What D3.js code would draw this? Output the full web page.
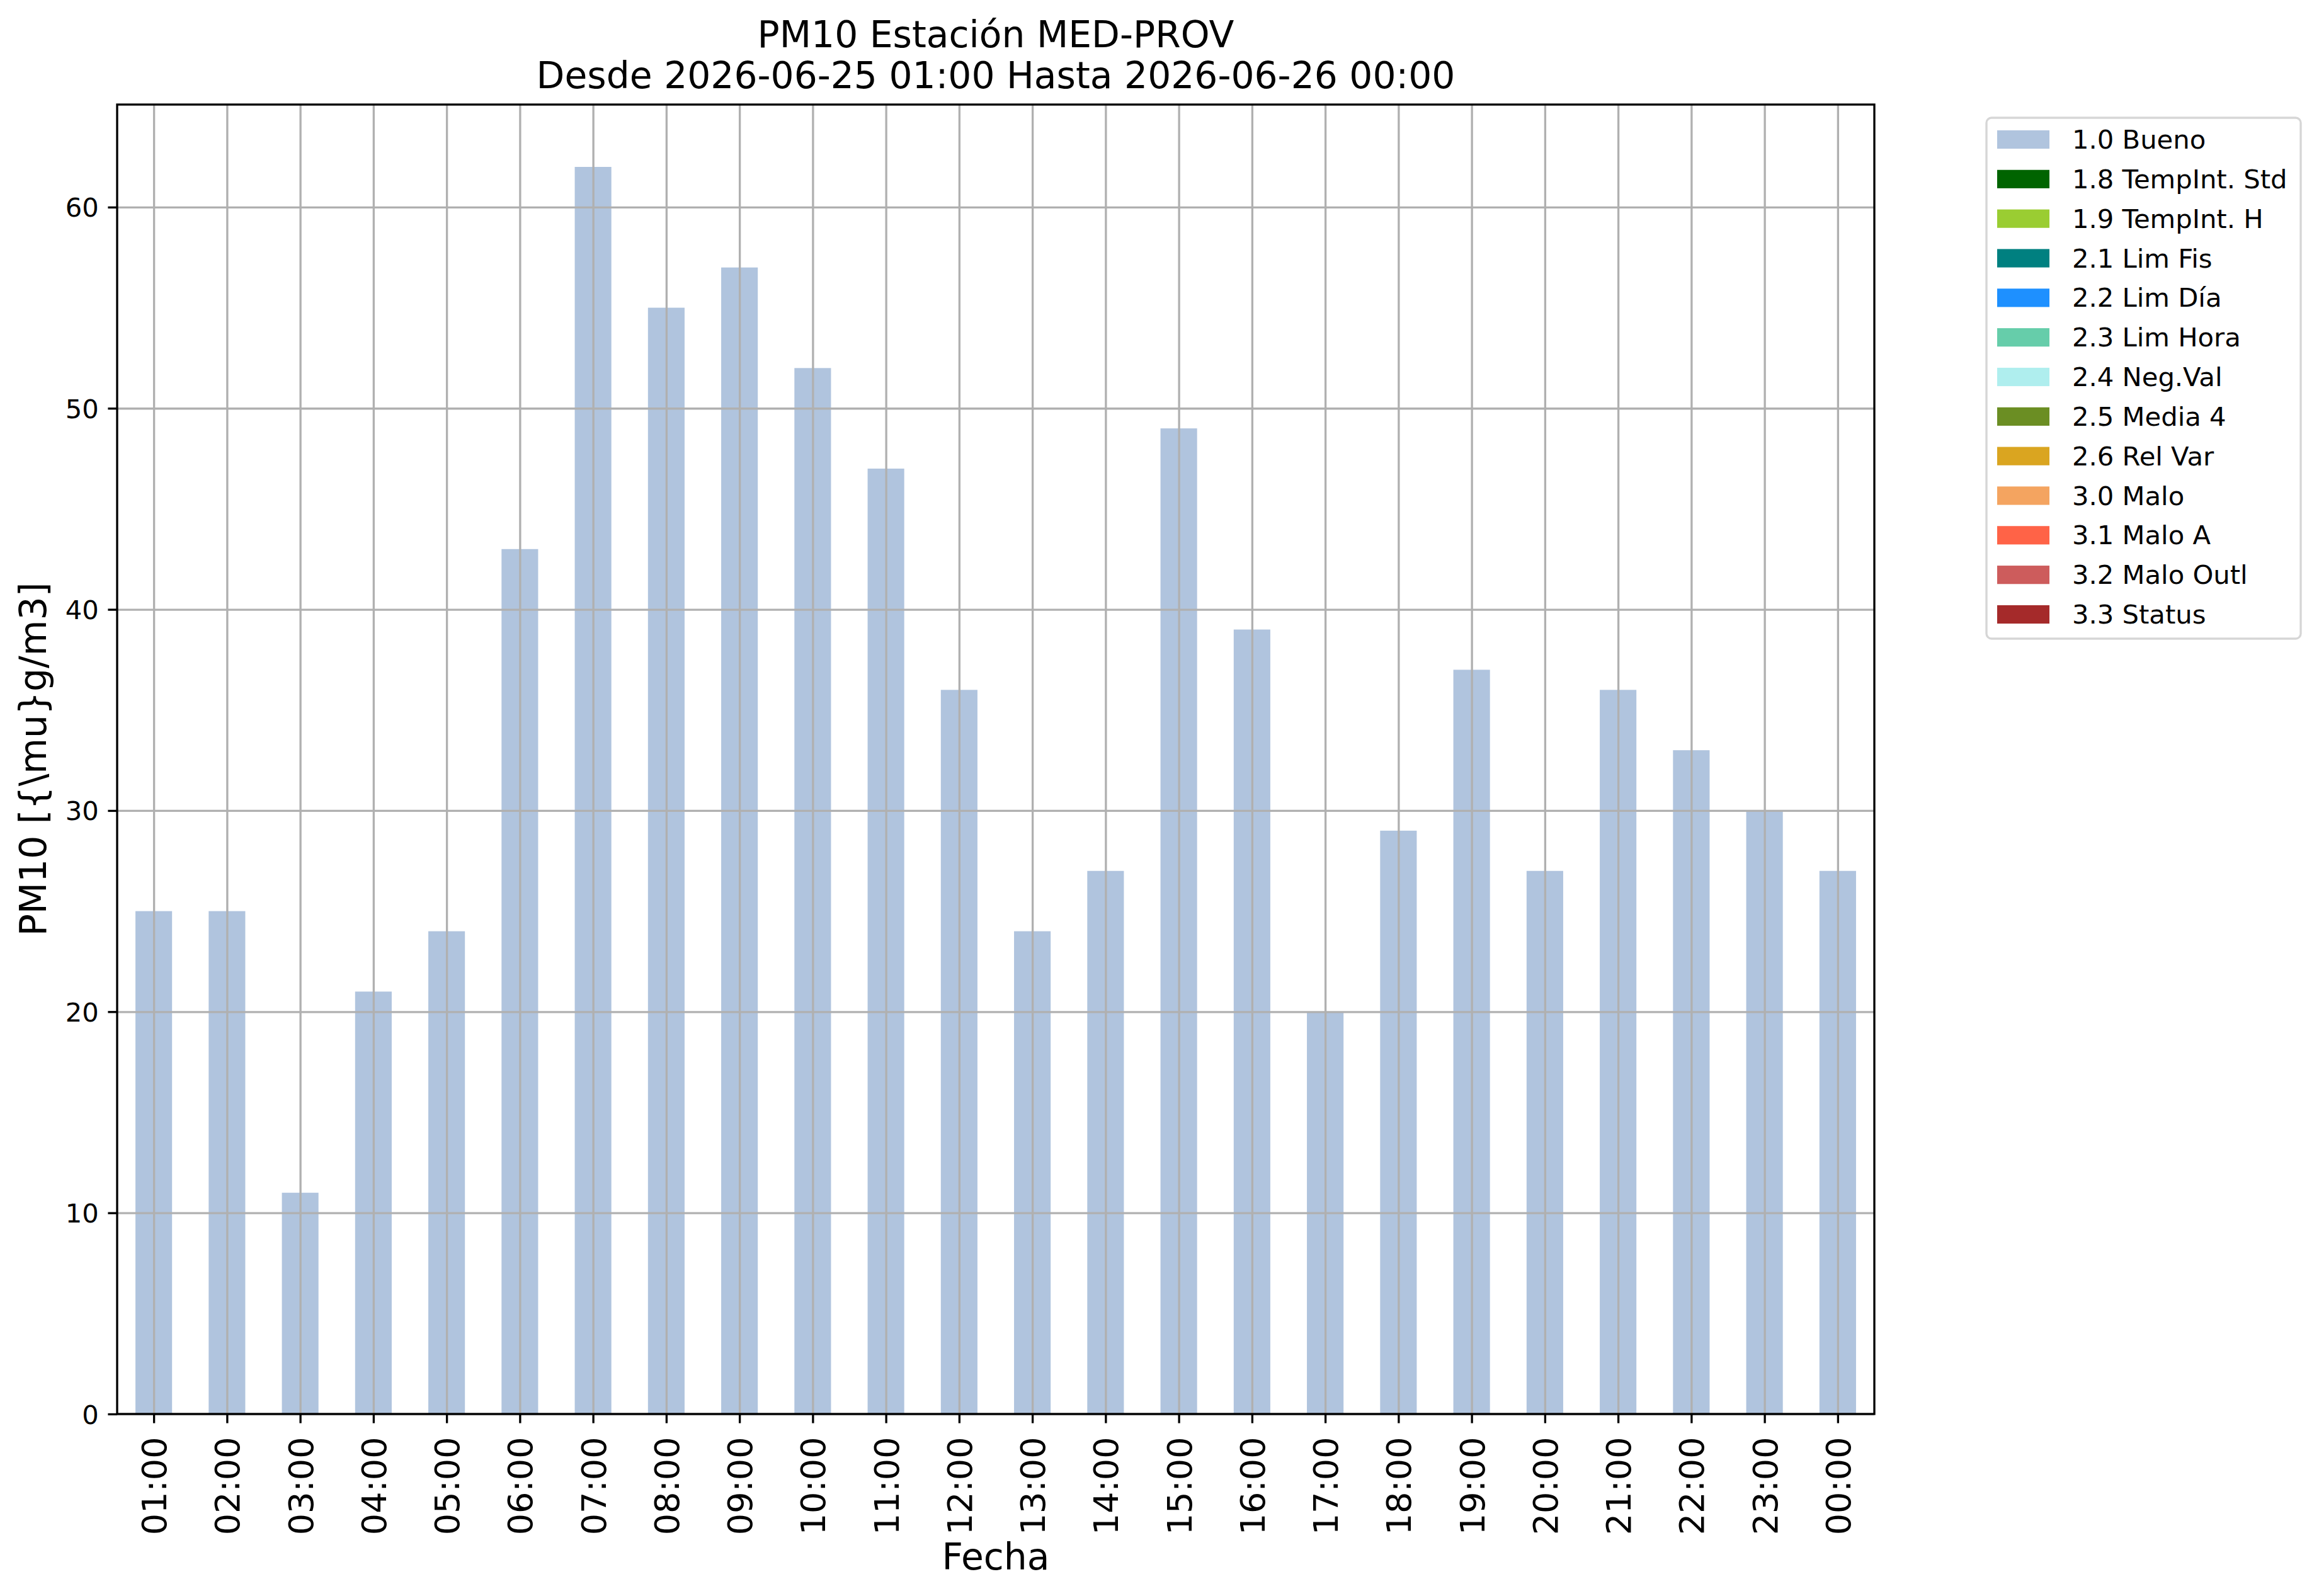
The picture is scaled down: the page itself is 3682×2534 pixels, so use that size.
<!DOCTYPE html>
<html>
<head>
<meta charset="utf-8">
<script src="https://cdn.jsdelivr.net/npm/d3@7"></script>
<style>
  html, body { margin: 0; padding: 0; background: #ffffff; }
  svg { display: block; }
  text { font-family: "DejaVu Sans", sans-serif; }
</style>
</head>
<body>
<svg id="chart" width="3682" height="2534"></svg>
<script>
// ---- data ----
const hours = ["01:00","02:00","03:00","04:00","05:00","06:00","07:00","08:00","09:00","10:00","11:00","12:00",
               "13:00","14:00","15:00","16:00","17:00","18:00","19:00","20:00","21:00","22:00","23:00","00:00"];
const pm10Values = [25,25,11,21,24,43,62,55,57,52,47,36,24,27,49,39,20,29,37,27,36,33,30,27];
const yTicks = [0,10,20,30,40,50,60];
const legendLabels = ["1.0 Bueno","1.8 TempInt. Std","1.9 TempInt. H","2.1 Lim Fis","2.2 Lim Día","2.3 Lim Hora",
                      "2.4 Neg.Val","2.5 Media 4","2.6 Rel Var","3.0 Malo","3.1 Malo A","3.2 Malo Outl","3.3 Status"];
const legendColors = ["#B0C4DE","#006400","#9ACD32","#008080","#1E90FF","#66CDAA",
                      "#AFEEEE","#6B8E23","#DAA520","#F4A460","#FF6347","#CD5C5C","#A52A2A"];
const titleLines = ["PM10 Estación MED-PROV", "Desde 2026-06-25 01:00 Hasta 2026-06-26 00:00"];
const xLabel = "Fecha";
const yLabel = "PM10 [{\\mu}g/m3]";

// ---- layout ----
const L = 186, R = 2976, T = 166, B = 2245;
const lw = 3.33, tickLen = 14.6, pad = 14.6;
const fs10 = 41.7, fs13 = 54.2, fs14 = 58.3;

const svg = d3.select("#chart");

const x = d3.scaleLinear().domain([-0.5, hours.length - 0.5]).range([L, R]);
const y = d3.scaleLinear().domain([0, 65.1]).range([B, T]);

// bars
const barW = x(0.25) - x(-0.25);
svg.append("g").selectAll("rect").data(pm10Values).join("rect")
  .attr("x", (d, i) => x(i) - barW / 2)
  .attr("y", d => y(d))
  .attr("width", barW)
  .attr("height", d => y(0) - y(d))
  .attr("fill", legendColors[0]);

// grid (on top of bars)
const gridX = svg.append("g").attr("transform", `translate(0,${B})`)
  .call(d3.axisBottom(x).tickValues(d3.range(hours.length)).tickSize(-(B - T)).tickFormat(""));
const gridY = svg.append("g").attr("transform", `translate(${L},0)`)
  .call(d3.axisLeft(y).tickValues(yTicks).tickSize(-(R - L)).tickFormat(""));
[gridX, gridY].forEach(g => {
  g.select(".domain").remove();
  g.selectAll("line").attr("stroke", "#b0b0b0").attr("stroke-width", lw);
});

// y axis
const yAxis = svg.append("g").attr("transform", `translate(${L},0)`)
  .call(d3.axisLeft(y).tickValues(yTicks).tickSize(tickLen).tickPadding(pad).tickFormat(d3.format("d")));
yAxis.select(".domain").remove();
yAxis.selectAll("line").attr("stroke", "#000").attr("stroke-width", lw);
yAxis.selectAll("text").attr("font-size", fs10).attr("fill", "#000")
  .attr("font-family", "DejaVu Sans").attr("dy", "0.36em");

// x axis
const xAxis = svg.append("g").attr("transform", `translate(0,${B})`)
  .call(d3.axisBottom(x).tickValues(d3.range(hours.length)).tickSize(tickLen).tickFormat(i => hours[i]));
xAxis.select(".domain").remove();
xAxis.selectAll("line").attr("stroke", "#000").attr("stroke-width", lw);
xAxis.selectAll("text")
  .attr("font-size", fs13).attr("fill", "#000").attr("font-family", "DejaVu Sans")
  .attr("x", 0).attr("y", 0).attr("dy", "0.36em")
  .attr("text-anchor", "end")
  .attr("transform", `translate(0,${tickLen + pad + 7}) rotate(-90)`);

// spines
svg.append("rect").attr("x", L).attr("y", T).attr("width", R - L).attr("height", B - T)
  .attr("fill", "none").attr("stroke", "#000").attr("stroke-width", lw);

// titles
svg.append("g").selectAll("text").data(titleLines).join("text")
  .attr("x", (L + R) / 2).attr("y", (d, i) => 75 + i * 65)
  .attr("text-anchor", "middle").attr("font-size", fs14).attr("fill", "#000")
  .text(d => d);

// axis labels
svg.append("text").attr("x", (L + R) / 2).attr("y", 2492)
  .attr("text-anchor", "middle").attr("font-size", fs14).attr("fill", "#000").text(xLabel);
svg.append("text").attr("transform", `translate(73,${(T + B) / 2}) rotate(-90)`)
  .attr("text-anchor", "middle").attr("font-size", fs14).attr("fill", "#000").text(yLabel);

// legend
const lg = svg.append("g");
lg.append("rect").attr("x", 3154).attr("y", 187).attr("width", 499).attr("height", 827)
  .attr("rx", 8).attr("ry", 8)
  .attr("fill", "#fff").attr("stroke", "#d6d6d6").attr("stroke-width", lw);
const rowY = d3.scaleLinear().domain([0, legendLabels.length - 1]).range([221.5, 975.5]);
const items = lg.selectAll("g.item").data(legendLabels).join("g").attr("class", "item");
items.append("rect")
  .attr("x", 3171).attr("y", (d, i) => rowY(i) - 14.6)
  .attr("width", 83).attr("height", 29.2)
  .attr("fill", (d, i) => legendColors[i]);
items.append("text")
  .attr("x", 3290).attr("y", (d, i) => rowY(i) + 14.6)
  .attr("font-size", fs10).attr("fill", "#000")
  .text(d => d);
</script>
</body>
</html>
